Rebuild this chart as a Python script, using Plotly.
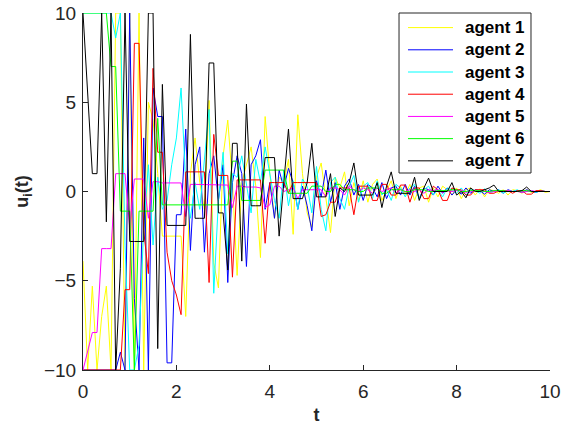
import plotly.graph_objects as go

# time samples (s)
t = [round(0.1 * k, 1) for k in range(101)]

agent_names = ["agent 1", "agent 2", "agent 3", "agent 4", "agent 5", "agent 6", "agent 7"]
agent_colors = ["#FFFF00", "#0000FF", "#00FFFF", "#FF0000", "#FF00FF", "#00FF00", "#000000"]

u1 = [-3.9, -10, -5.3, -10, -7, -5.3, -10, 10, 10, -10,
      10, -10, 10, -10, 5, 4, 1, -2.5, -2.5, -2.5,
      -2.5, -2.5, -7, 1, 3, 0.5, -1, 5.1, -4, -5.4,
      2, 4, 0.5, -4.7, 0.5, 1.5, 2.5, 0.3, -3.7, 4.2,
      1, -1.5, 0.8, 0.5, 1.8, -2.4, 4.3, 1.0, -1.2, -2,
      0.8, 1.6, -0.3, -2.3, 0.8, 0.2, 1.1, -0.8, 0.5, -0.5,
      0.6, -0.6, 0.4, 0.7, -0.5, 0.1, 0.6, -0.4, 0.3, -0.2,
      0.4, -0.5, 0.2, 0.3, -0.6, 0.2, -0.3, 0.3, 0.1, -0.2,
      0.2, -0.4, 0.1, 0.2, -0.2, 0.15, -0.3, 0.1, 0.05, -0.1,
      0.1, -0.2, 0.1, 0.05, -0.1, 0.1, -0.05, 0.0, 0.1, -0.05, 0.0]

u2 = [-10, -10, -10, -10, -10, -10, -10, -10, -9, -10,
      10, -6, -10, 3, -10, 5.8, 4.2, 4.2, -9.6, -9.6,
      -1.3, -1.3, 3.5, -3.3, 1.5, 2.5, -3.4, 1.0, 2.0, -0.5,
      1.5, -5.1, 0.5, 2.0, 1.0, -4.2, 1.5, 2.0, 2.9, -1.0,
      0.5, -1.5, 1.2, 0.2, 1.3, 0.5, -1.0, 0.3, -0.8, -2.2,
      0.6, -0.3, 1.2, -0.6, 0.5, -1.0, 0.3, 0.7, -0.2, 0.4,
      -0.5, 0.4, 0.2, -0.3, 0.5, -0.4, 0.2, 0.3, -0.2, 0.4,
      -0.2, 0.3, -0.4, 0.2, 0.1, -0.2, 0.3, -0.1, 0.2, -0.2,
      0.1, -0.15, 0.2, -0.1, 0.1, 0.05, -0.15, 0.1, 0.0, 0.1,
      -0.1, 0.1, 0.0, 0.05, -0.05, 0.1, 0.0, -0.05, 0.05, 0.0, 0.0]

u3 = [10, 10, 10, 10, 10, 10, 10, 8.6, 10, -3,
      -10, -10, -8.6, -2, 1.5, -3, 0.8, -1, -0.5, 1.5,
      3.0, 5.8, 0.5, -1.5, 0.5, -1.0, 2.0, 4.6, -5.7, -0.5,
      2.2, -3.5, 1.0, 0.8, 2.0, 0.5, -1.2, 1.8, 0.5, 2.5,
      1.0, -0.5, -1.5, 1.2, -0.8, 0.6, -1.0, 0.7, 0.3, -1.2,
      1.4, -1.0, -2.2, 0.5, 0.8, -0.4, -1.0, 0.3, 0.9, -0.6,
      0.3, 0.5, -0.4, 0.6, -0.2, 0.1, -0.5, 0.4, 0.2, -0.3,
      0.2, 0.4, -0.4, 0.1, 0.3, -0.2, 0.1, -0.3, 0.2, 0.1,
      -0.1, 0.2, -0.2, 0.1, 0.05, -0.1, 0.15, -0.05, 0.0, 0.1,
      -0.1, 0.05, 0.0, 0.1, -0.05, 0.0, 0.05, -0.05, 0.05, 0.0, 0.0]

u4 = [-10, -10, -10, -10, -10, -10, -10, -10, -10, -5.5,
      -5.5, 8.3, 8.3, -2.2, -4.6, 6.9, 2.2, 2.2, -3.4, -5.0,
      -5.8, -6.9, 1.1, 1.1, 1.1, 1.1, 1.1, -5.1, 3.2, 0.9,
      0.9, 0.9, -4.8, 0.65, 0.65, 0.65, 0.65, 0.65, 0.65, -2.9,
      0.5, 0.5, 0.5, 0.5, -0.1, 0.5, 0.5, 0.5, 0.5, 0.5,
      0.5, -1.4, -1.3, -0.6, -0.6, 0.2, 0.2, 0.2, -1.3, 0.3,
      0.3, 0.3, -0.5, -0.5, 0.4, 0.4, -0.2, -0.2, 0.36, 0.36,
      -0.6, 0.2, 0.2, -0.4, -0.4, 0.3, 0.1, -0.5, -0.5, 0.2,
      0.1, 0.1, -0.2, -0.2, 0.1, 0.1, 0.1, -0.1, -0.1, 0.05,
      0.05, 0.05, -0.1, 0.05, 0.05, -0.15, -0.15, 0.05, 0.05, 0.0, 0.0]

u5 = [-10, -9, -7.9, -7.9, -3.2, -3.2, -3.2, 1.0, 1.0, 1.0,
      -2, 0.7, 0.7, 0.7, -1.5, 0.55, 0.55, 0.48, 0.48, 0.48,
      0.48, 0.48, -1.4, 0.4, 0.4, 0.4, 0.4, 0.36, 0.36, 0.36,
      0.36, 0.36, -0.9, 0.3, 0.3, 0.25, 0.25, 0.25, 0.2, -0.9,
      -0.75, 0.3, 0.3, 0.0, 0.1, 0.2, -0.4, 0.1, 0.1, 0.1,
      0.1, 0.1, -0.3, 0.2, 0.2, 0.1, -0.2, 0.3, 0.1, 0.0,
      0.2, 0.1, -0.1, 0.2, 0.0, 0.1, 0.2, -0.1, 0.1, 0.0,
      0.1, 0.0, 0.1, -0.1, 0.1, 0.05, 0.1, -0.05, 0.05, 0.0,
      0.05, 0.05, -0.05, 0.0, 0.05, 0.05, 0.0, -0.05, 0.0, 0.05,
      0.0, 0.05, 0.0, 0.0, -0.05, 0.0, 0.05, 0.0, 0.0, 0.0, 0.0]

u6 = [10, 10, 10, 10, 10, 10, 7, 7, -1.1, -1.1,
      -1.1, -10, -1.1, -1.1, -1.1, -1.1, 4.1, -0.75, -0.75, -0.75,
      -0.75, -0.75, -0.75, -0.75, -0.75, -0.75, -0.75, -0.75, -0.75, -0.75,
      -0.75, -0.75, 1.7, 1.7, -0.5, -0.5, -0.5, -0.5, -0.5, 1.2,
      1.2, 1.2, 1.2, 1.2, -0.1, -0.1, -0.1, -0.1, -0.1, 0.3,
      0.3, 0.3, 0.0, 0.0, 0.4, 0.4, 0.1, 0.1, 0.1, 0.0,
      0.0, 0.2, 0.2, 0.2, -0.1, -0.1, 0.1, 0.1, 0.1, 0.0,
      0.0, 0.1, 0.1, 0.1, 0.0, 0.0, 0.05, 0.05, 0.05, 0.1,
      0.1, 0.0, 0.0, 0.05, 0.05, 0.05, 0.0, 0.0, 0.05, 0.05,
      0.05, 0.0, 0.0, 0.0, 0.05, 0.05, 0.0, 0.0, 0.0, 0.0, 0.0]

u7 = [10, 5.5, 1.0, 1.0, 10, -1.7, 10, -10, -4.3, 10,
      -2.8, -2.8, -2.8, -2.8, 10, 10, -8.8, 6.0, -1.9, -1.9,
      -1.9, -1.9, -1.9, 8.8, -1.5, -1.5, -1.5, 7.2, 7.2, -1.2,
      -1.2, -4.4, 2.7, 2.7, -3.9, 4.9, -0.8, -0.8, -0.8, 1.9,
      1.9, 1.9, -2.5, 0.5, 3.5, -0.4, -0.4, -0.4, 0.5, 2.7,
      -0.3, -0.3, -0.3, 1.0, -1.4, 0.2, 0.0, 0.5, 1.6, -0.2,
      -0.2, -0.2, -0.2, 0.5, -0.9, 0.3, 1.1, -0.1, -0.1, -0.1,
      -0.1, 0.8, -0.5, 0.2, 0.75, 0.0, 0.0, 0.0, 0.0, 0.5,
      -0.2, 0.0, -0.35, 0.2, 0.0, 0.0, 0.1, 0.2, 0.36, 0.0,
      0.0, 0.0, 0.0, 0.0, 0.05, 0.25, 0.0, 0.0, 0.0, 0.0, 0.0]

series = [u1, u2, u3, u4, u5, u6, u7]

x_ticks = [0, 2, 4, 6, 8, 10]
y_ticks = [-10, -5, 0, 5, 10]

fig = go.Figure()
for name, color, u in zip(agent_names, agent_colors, series):
    fig.add_trace(go.Scatter(x=t, y=u, mode="lines", name=name, showlegend=False,
                             line=dict(color=color, width=1)))

axis_color = "#262626"
font_family = "Liberation Sans, Arial, sans-serif"

# Legend drawn in paper coordinates (MATLAB-style box with long line samples)
leg_x0, leg_x1, leg_y0, leg_y1 = 0.6767, 0.9593, 0.5518, 1.0
row_top, row_step = 0.9591, 0.0622
line_x0, line_x1, text_x = 0.6959, 0.7923, 0.8137
shapes = [dict(type="rect", xref="paper", yref="paper", x0=leg_x0, x1=leg_x1,
               y0=leg_y0, y1=leg_y1, line=dict(color=axis_color, width=1),
               fillcolor="white", layer="above")]
annotations = []
for i, (name, color) in enumerate(zip(agent_names, agent_colors)):
    yy = row_top - i * row_step
    shapes.append(dict(type="line", xref="paper", yref="paper", x0=line_x0, x1=line_x1,
                       y0=yy, y1=yy, line=dict(color=color, width=1), layer="above"))
    annotations.append(dict(text=f"<b>{name}</b>", xref="paper", yref="paper", x=text_x, y=yy,
                            xanchor="left", yanchor="middle", showarrow=False,
                            font=dict(family=font_family, size=17, color="black")))

fig.update_layout(
    template="none",
    width=569, height=429,
    margin=dict(l=83, r=19, t=13, b=59, autoexpand=False),
    paper_bgcolor="white", plot_bgcolor="white",
    font=dict(family=font_family, size=19, color=axis_color),
    showlegend=False,
    hovermode=False,
    shapes=shapes,
    annotations=annotations,
    xaxis=dict(
        range=[0, 10], tickvals=x_ticks, ticks="inside", ticklen=5,
        tickcolor=axis_color, showline=True, linecolor=axis_color, linewidth=1,
        showgrid=False, zeroline=False, mirror=False, automargin=False,
        ticklabelstandoff=4, ticklabeloverflow="allow",
        title=dict(text="<b>t</b>", font=dict(size=18, color=axis_color), standoff=7),
        tickfont=dict(size=19, color=axis_color),
    ),
    yaxis=dict(
        range=[-10, 10], tickvals=y_ticks, ticks="inside", ticklen=5,
        tickcolor=axis_color, showline=True, linecolor=axis_color, linewidth=1,
        showgrid=False, zeroline=False, mirror=False, automargin=False,
        ticklabelstandoff=2, ticklabeloverflow="allow",
        title=dict(text="<b>u<sub>i</sub>(t)</b>", font=dict(size=18, color=axis_color), standoff=10),
        tickfont=dict(size=19, color=axis_color),
    ),
)

fig.write_html("out.html", config={"displayModeBar": False},
               post_script="document.body.style.margin='0';")
